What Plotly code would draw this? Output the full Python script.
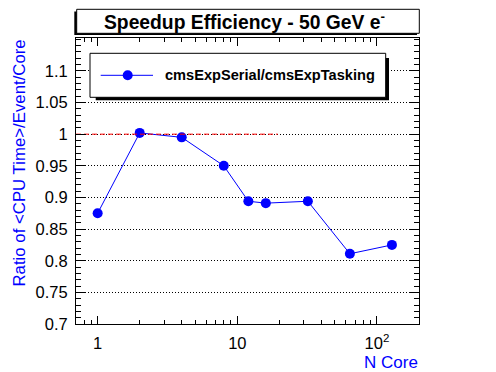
import plotly.graph_objects as go

# ---- data ----
n_core = [1, 2, 4, 8, 12, 16, 32, 64, 128]
ratio = [0.875, 1.002, 0.995, 0.950, 0.894, 0.891, 0.894, 0.811, 0.825]
ref_x = [0.7, 19.5]
ref_y = [1.0, 1.0]
y_ticks = [0.7, 0.75, 0.8, 0.85, 0.9, 0.95, 1.0, 1.05, 1.1]
y_tick_labels = ["0.7", "0.75", "0.8", "0.85", "0.9", "0.95", "1", "1.05", "1.1"]
x_ticks = [1, 10, 100]
x_tick_labels = ["1", "10", "10<sup>2</sup>"]
x_minor = [0.8, 0.9, 2, 3, 4, 5, 6, 7, 8, 9, 20, 30, 40, 50, 60, 70, 80, 90, 200]
title_text = "<b>Speedup Efficiency - 50 GeV e<sup>-</sup></b>"
legend_text = "<b>cmsExpSerial/cmsExpTasking</b>"
y_title = "Ratio of &lt;CPU Time&gt;/Event/Core"
x_title = "N Core"

W, H = 496, 372
L, R, T, B = 76, 77, 38, 48
PW, PH = W - L - R, H - T - B
FONT = "Liberation Sans, Arial, Helvetica, sans-serif"
BLUE = "#0000ff"


def px(x):
    return (x - L) / PW


def py(y):
    return (H - B - y) / PH


fig = go.Figure()
fig.add_trace(go.Scatter(x=n_core, y=ratio, mode="lines+markers",
                         line=dict(color=BLUE, width=1),
                         marker=dict(color=BLUE, size=10, symbol="circle"),
                         showlegend=False))
fig.add_trace(go.Scatter(x=ref_x, y=ref_y, mode="lines",
                         line=dict(color="#ff0000", width=1, dash="5px,3px"),
                         hoverinfo="skip", showlegend=False))

shapes = []
# title box with shadow
shapes.append(dict(type="rect", xref="paper", yref="paper",
                   x0=px(74.3), x1=px(417), y0=py(35), y1=py(11.5),
                   fillcolor="black", line=dict(width=0), layer="above"))
shapes.append(dict(type="rect", xref="paper", yref="paper",
                   x0=px(76.7), x1=px(419.3), y0=py(33.3), y1=py(9.3),
                   fillcolor="white", line=dict(color="black", width=1), layer="above"))
# legend box with shadow
shapes.append(dict(type="rect", xref="paper", yref="paper",
                   x0=px(95.7), x1=px(389), y0=py(100.3), y1=py(58),
                   fillcolor="black", line=dict(width=0), layer="above"))
shapes.append(dict(type="rect", xref="paper", yref="paper",
                   x0=px(90), x1=px(385.7), y0=py(97.3), y1=py(53.3),
                   fillcolor="white", line=dict(color="black", width=1), layer="above"))
# legend symbol
shapes.append(dict(type="line", xref="paper", yref="paper",
                   x0=px(100.7), x1=px(153), y0=py(75.3), y1=py(75.3),
                   line=dict(color=BLUE, width=1), layer="above"))
shapes.append(dict(type="circle", xref="paper", yref="paper",
                   x0=px(127.7 - 5), x1=px(127.7 + 5),
                   y0=py(75.3 + 5), y1=py(75.3 - 5),
                   fillcolor=BLUE, line=dict(color=BLUE, width=0), layer="above"))

annotations = [
    dict(text=title_text, xref="paper", yref="paper", x=px(244), y=py(21.5),
         xanchor="center", yanchor="middle", showarrow=False,
         font=dict(family=FONT, size=19.3, color="black")),
    dict(text=legend_text, xref="paper", yref="paper", x=px(163), y=py(75),
         xanchor="left", yanchor="middle", showarrow=False,
         font=dict(family=FONT, size=14.6, color="black")),
    dict(text=y_title, xref="paper", yref="paper", x=px(18.5), y=py(37.5),
         xanchor="center", yanchor="top", textangle=-90, showarrow=False,
         font=dict(family=FONT, size=16.8, color=BLUE)),
    dict(text=x_title, xref="paper", yref="paper", x=px(419.5), y=py(362),
         xanchor="right", yanchor="middle", showarrow=False,
         font=dict(family=FONT, size=17, color=BLUE)),
]

fig.update_layout(
    width=W, height=H,
    margin=dict(l=L, r=R, t=T, b=B, pad=0),
    paper_bgcolor="white", plot_bgcolor="white",
    font=dict(family=FONT, size=16, color="black"),
    shapes=shapes, annotations=annotations,
    showlegend=False,
    xaxis=dict(type="log", range=[-0.155, 2.301],
               tickmode="array", tickvals=x_ticks, ticktext=x_tick_labels,
               ticks="inside", ticklen=8, tickcolor="black", tickwidth=1,
               showline=True, linecolor="black", linewidth=1, mirror="allticks",
               showgrid=False, zeroline=False,
               ticklabelstandoff=4,
               tickfont=dict(family=FONT, size=16.5, color="black"),
               minor=dict(tickmode="array", tickvals=x_minor, ticks="inside",
                          ticklen=4, tickcolor="black", tickwidth=1, showgrid=False)),
    yaxis=dict(range=[0.7, 1.152],
               tickmode="array", tickvals=y_ticks, ticktext=y_tick_labels,
               ticks="inside", ticklen=10, tickcolor="black", tickwidth=1,
               showline=True, linecolor="black", linewidth=1, mirror="allticks",
               showgrid=True, gridcolor="black", gridwidth=1, griddash="1px,2px",
               zeroline=False,
               ticklabelstandoff=4,
               tickfont=dict(family=FONT, size=16.5, color="black"),
               minor=dict(tickmode="linear", tick0=0.7, dtick=0.01, ticks="inside",
                          ticklen=5, tickcolor="black", tickwidth=1, showgrid=False)),
)

fig.write_html("out.html", config={"displayModeBar": False},
               post_script="document.body.style.margin='0';")
